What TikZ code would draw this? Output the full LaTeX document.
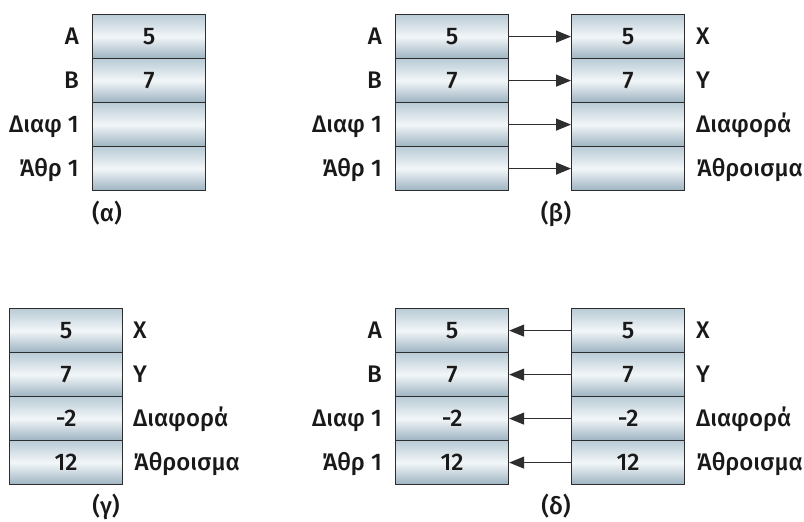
\documentclass[tikz,border=0pt]{standalone}
\usepackage{fontspec}
\setmainfont{Fira Sans}[UprightFont={* Medium}]
\usetikzlibrary{arrows.meta}
\definecolor{edge}{HTML}{2E2E2E}
\definecolor{cellTop}{HTML}{B9CBD6}
\definecolor{cellMid}{HTML}{F2F6F8}
\definecolor{cellBot}{HTML}{9DB3C1}
\newcommand\labfont{\fontsize{24}{27}\selectfont}
\tikzset{
  cell/.style={rectangle, draw=edge, line width=1.2pt, minimum width=113pt,
    minimum height=44pt, anchor=north west, inner sep=0pt,
    top color=cellTop, bottom color=cellBot, middle color=cellMid,
    font=\labfont, text=black!90},
  llab/.style={anchor=base east, inner sep=0pt, font=\labfont, text=black!90},
  rlab/.style={anchor=base west, inner sep=0pt, font=\labfont, text=black!90},
  captxt/.style={anchor=base, inner sep=0pt, font=\labfont, text=black!90},
  arr/.style={draw=edge, line width=1.2pt, -{Triangle[length=15pt,width=12pt]}}
}
\begin{document}
\begin{tikzpicture}[x=1pt,y=-1pt]
\useasboundingbox (0,0) rectangle (804,522);
% (alpha)
\foreach \i/\v in {1/5,2/7,3/,4/}
  \node[cell] (a\i) at (92,{14+44*(\i-1)}) {\v};
\foreach \i/\t in {1/A,2/B,3/Διαφ 1,4/Άθρ 1}
  \node[llab] (la\i) at (79,{36+44*(\i-1)+8}) {\t};
\node[captxt] (capa) at (107,221) {(α)};
% (beta)
\foreach \i/\v in {1/5,2/7,3/,4/}
  \node[cell] (bl\i) at (395,{14+44*(\i-1)}) {\v};
\foreach \i/\v in {1/5,2/7,3/,4/}
  \node[cell] (br\i) at (571,{14+44*(\i-1)}) {\v};
\foreach \i/\t in {1/A,2/B,3/Διαφ 1,4/Άθρ 1}
  \node[llab] (lb\i) at (382,{36+44*(\i-1)+8}) {\t};
\foreach \i/\t in {1/X,2/Y,3/Διαφορά,4/Άθροισμα}
  \node[rlab] (rb\i) at (696,{36+44*(\i-1)+8}) {\t};
\foreach \i in {1,2,3,4}
  \draw[arr] (bl\i.east) -- (br\i.west);
\node[captxt] (capb) at (556,221) {(β)};
% (gamma)
\foreach \i/\v in {1/5,2/7,3/-2,4/12}
  \node[cell] (g\i) at (9,{308+44*(\i-1)}) {\v};
\foreach \i/\t in {1/X,2/Y,3/Διαφορά,4/Άθροισμα}
  \node[rlab] (rg\i) at (133,{330+44*(\i-1)+8}) {\t};
\node[captxt] (capg) at (106,514) {(γ)};
% (delta)
\foreach \i/\v in {1/5,2/7,3/-2,4/12}
  \node[cell] (dl\i) at (395,{308+44*(\i-1)}) {\v};
\foreach \i/\v in {1/5,2/7,3/-2,4/12}
  \node[cell] (dr\i) at (571,{308+44*(\i-1)}) {\v};
\foreach \i/\t in {1/A,2/B,3/Διαφ 1,4/Άθρ 1}
  \node[llab] (ld\i) at (382,{330+44*(\i-1)+8}) {\t};
\foreach \i/\t in {1/X,2/Y,3/Διαφορά,4/Άθροισμα}
  \node[rlab] (rd\i) at (696,{330+44*(\i-1)+8}) {\t};
\foreach \i in {1,2,3,4}
  \draw[arr] (dr\i.west) -- (dl\i.east);
\node[captxt] (capd) at (556,514) {(δ)};
\end{tikzpicture}
\end{document}
